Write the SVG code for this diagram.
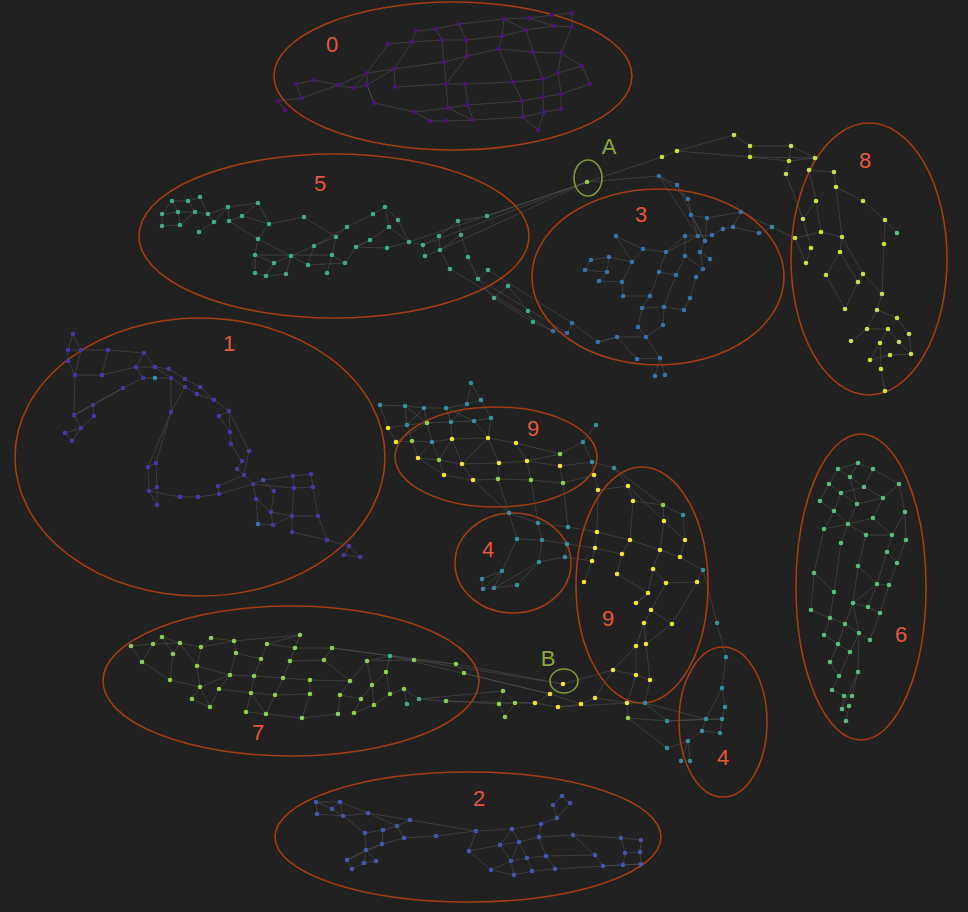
<svg xmlns="http://www.w3.org/2000/svg" width="968" height="912" viewBox="0 0 968 912">
<style>
.bg{fill:#212121}
.cl{fill:none;stroke:#a23d17;stroke-width:1.6}
.hl{fill:none;stroke:#7f9a3c;stroke-width:1.6}
.lb{font-family:"Liberation Sans",Arial,sans-serif;font-size:22px;fill:#e5573d;text-anchor:middle}
.hb{font-family:"Liberation Sans",Arial,sans-serif;font-size:22px;fill:#8aa83e;text-anchor:middle}
.e{fill:none;stroke:#6a6a6a;stroke-opacity:0.45;stroke-width:0.8}
.c0{fill:#4a1272}.c1{fill:#4a38a2}.c2{fill:#4656ac}.c3{fill:#3b70a8}.c4{fill:#3b8c9e}
.c5{fill:#44a98f}.c6{fill:#5dbc7b}.c7{fill:#8ccd52}.c8{fill:#c8e23a}.c9{fill:#f3e52a}
</style>
<rect class="bg" x="0" y="0" width="968" height="912"/>

<g id="connectors">
<path class="e" d="M278 101L302 98M285 110L278 101M302 98L296 84M296 84L314 80M314 80L338 85M302 98L338 85M338 85L367 73M338 85L353 88M353 88L367 85M367 73L394 69M367 73L367 85M367 85L374 103M353 88L367 73M367 73L388 44M388 44L412 42M412 42L416 31M416 31L436 29M412 42L442 40M436 29L442 40M412 42L394 69M394 69L395 87M395 87L446 84M394 69L444 62M374 103L415 112M415 112L430 121M430 121L446 121M446 121L473 120M415 112L448 108M448 108L468 105M444 62L446 84M446 84L448 108M442 40L444 62M444 62L467 56M446 84L465 84M446 84L467 56M465 84L468 105M468 105L473 120M448 108L473 120M459 24L466 40M436 29L459 24M466 40L467 56M442 40L466 40M459 24L504 19M466 40L502 36M467 56L499 49M465 84L513 82M468 105L522 101M473 120L523 117M504 19L529 18M502 36L526 30M499 49L533 52M499 49L502 36M502 36L504 19M499 49L513 82M513 82L522 101M522 101L523 117M523 117L538 130M513 82L543 79M522 101L543 97M523 117L544 112M529 18L552 15M526 30L554 26M533 52L561 53M526 30L533 52M533 52L543 79M543 79L543 97M543 97L544 112M543 79L558 73M543 97L561 94M544 112L561 109M552 15L572 13M554 26L572 27M561 53L558 73M558 73L561 94M561 94L561 109M561 53L572 27M572 27L572 13M561 53L582 66M582 66L590 84M590 84L561 94M558 73L582 66M538 130L544 112M529 18L554 26M504 19L526 30M367 85L394 69M374 103L367 85"/>
<path class="e" d="M172 201L188 201M188 201L200 197M162 214L172 201M162 214L178 212M178 212L195 212M195 212L208 214M162 226L162 214M162 226L180 225M180 225L178 212M172 201L178 212M188 201L195 212M200 197L208 214M180 225L195 212M208 214L214 222M199 232L214 222M214 222L228 207M208 214L228 207M228 207L229 221M229 221L242 216M228 207L258 203M242 216L258 203M242 216L269 224M258 203L269 224M269 224L258 239M258 239L255 255M255 255L255 273M255 273L266 276M266 276L286 274M255 255L274 263M274 263L266 276M274 263L291 256M291 256L286 274M258 239L291 256M229 221L258 239M269 224L304 217M304 217L336 237M336 237L332 255M332 255L327 273M332 255L345 263M345 263L356 247M314 246L308 265M314 246L336 237M291 256L314 246M308 265L291 256M308 265L345 263M255 255L332 255M336 237L347 227M347 227L373 214M373 214L385 207M385 207L389 227M389 227L370 240M370 240L356 247M356 247L387 248M387 248L409 242M409 242L423 245M423 245L439 236M439 236L458 221M458 221L461 235M461 235L440 250M440 250L439 236M423 245L425 256M425 256L440 250M440 250L450 269M461 235L468 257M468 257L478 279M478 279L488 270M478 279L494 298M494 298L508 286M508 286L528 311M494 298L533 322M458 221L487 216M398 220L409 242M385 207L398 220M389 227L409 242M356 247L370 240M314 246L347 227M528 311L533 322M533 322L553 331M450 269L553 331M478 279L567 333M488 270L572 323M487 216L587 182M409 242L587 182M440 250L587 182M423 245L587 182M587 182L659 176M587 182L662 157"/>
<path class="e" d="M659 176L677 185M677 185L688 199M659 176L688 199M688 199L691 215M691 215L707 218M707 218L741 212M691 215L698 236M691 215L705 241M707 218L705 241M698 236L685 236M698 236L712 235M712 235L723 229M723 229L733 227M733 227L759 233M741 212L733 227M759 233L772 227M772 227L795 238M685 236L666 252M685 236L685 256M700 252L705 241M700 252L710 259M700 252L703 269M703 269L696 277M696 277L690 298M690 298L684 310M684 310L664 307M685 256L676 275M676 275L659 272M666 252L643 249M643 249L616 236M643 249L632 262M632 262L609 257M609 257L591 260M591 260L585 270M585 270L607 272M607 272L609 257M607 272L599 281M599 281L622 282M622 282L632 262M622 282L623 296M623 296L650 296M650 296L642 308M642 308L664 307M642 308L638 327M638 327L646 337M646 337L617 337M617 337L598 342M598 342L572 323M572 323L567 333M567 333L553 331M663 325L664 307M663 325L646 337M660 358L646 337M660 358L637 359M637 359L617 337M655 376L660 358M665 375L660 358M659 272L666 252M659 272L650 296M676 275L664 307M685 256L703 269M616 236L632 262M666 252L698 236M659 176L698 236M677 185L705 241M741 212L772 227M598 342L617 337"/>
<path class="e" d="M662 157L677 151M677 151L734 135M677 151L750 157M734 135L750 146M750 146L791 146M750 157L789 161M750 157L815 158M791 146L789 161M789 161L786 174M789 161L815 158M815 158L809 170M809 170L834 172M809 170L816 201M834 172L836 187M836 187L863 201M816 201L803 219M816 201L821 232M836 187L842 237M863 201L885 220M885 220L884 244M885 220L897 233M821 232L795 238M821 232L842 237M795 238L806 263M811 248L806 263M803 219L811 248M842 237L840 252M840 252L826 275M840 252L858 282M863 274L858 282M884 244L882 294M826 275L845 309M858 282L845 309M863 274L882 294M882 294L877 310M877 310L867 329M877 310L897 318M897 318L909 334M867 329L851 341M867 329L888 329M888 329L880 343M888 329L899 342M899 342L911 354M909 334L911 354M880 343L870 360M880 343L881 369M890 355L911 354M870 360L890 355M881 369L885 391M786 174L803 219M750 146L750 157M791 146L815 158M842 237L863 274"/>
<path class="e" d="M73 334L68 350M73 334L81 350M68 350L81 350M81 350L108 350M108 350L144 353M68 350L68 361M68 361L75 375M81 350L75 375M75 375L102 375M102 375L108 350M102 375L136 367M144 353L136 367M144 353L155 367M136 367L155 367M155 367L169 369M136 367L143 378M143 378L155 378M155 378L171 378M155 367L171 378M169 369L185 379M171 378L185 387M185 379L200 387M185 387L197 394M197 394L214 400M200 387L214 400M214 400L229 411M219 416L229 411M143 378L123 388M123 388L93 405M93 405L94 416M93 405L74 415M74 415L81 428M81 428L65 433M65 433L72 441M72 441L81 428M74 415L75 375M123 388L74 415M94 416L81 428M171 378L171 412M171 412L185 387M171 412L156 463M171 412L148 467M229 411L230 432M219 416L230 432M230 432L231 444M231 444L242 461M229 411L249 451M249 451L244 475M242 461L237 469M237 469L244 475M244 475L253 484M253 484L263 480M263 480L293 476M293 476L311 474M253 484L294 488M294 488L313 487M311 474L313 487M293 476L294 488M253 484L256 499M256 499L271 512M271 512L274 491M274 491L263 480M271 512L292 516M292 516L318 516M318 516L313 487M292 516L294 488M256 499L258 524M258 524L273 525M273 525L271 512M273 525L292 516M292 516L292 532M292 532L327 540M327 540L318 516M327 540L349 546M349 546L344 555M344 555L360 557M349 546L360 557M148 467L156 463M148 467L149 491M156 463L157 487M149 491L157 487M157 487L157 505M149 491L180 497M180 497L198 497M198 497L219 494M219 494L218 486M218 486L244 475M219 494L253 484M157 505L149 491"/>
<path class="e" d="M471 383L467 404M471 383L481 400M380 405L405 406M405 406L424 408M424 408L446 408M446 408L467 404M467 404L481 400M380 405L388 428M405 406L407 425M424 408L427 423M446 408L451 422M481 400L491 418M388 428L407 425M407 425L427 423M427 423L451 422M451 422L474 421M474 421L491 418M388 428L396 442M407 425L412 441M427 423L432 442M451 422L452 439M491 418L488 438M396 442L412 441M412 441L432 442M432 442L452 439M452 439L488 438M488 438L516 443M474 421L488 438M412 441L418 458M418 458L439 460M439 460L462 464M462 464L499 463M499 463L527 461M527 461L560 454M527 461L560 466M560 454L583 442M583 442L596 425M560 466L592 462M583 442L592 462M592 462L614 468M418 458L444 475M444 475L473 480M473 480L498 479M498 479L531 480M531 480L563 483M563 483L594 475M432 442L439 460M452 439L462 464M488 438L499 463M516 443L527 461M516 443L560 454M439 460L444 475M462 464L473 480M499 463L498 479M527 461L531 480M560 466L563 483M592 462L594 475M405 406L427 423M424 408L407 425M446 408L474 421M451 422L467 404M396 442L427 423M432 442L418 458M452 439L439 460M488 438L462 464"/>
<path class="e" d="M594 475L598 490M598 490L628 486M628 486L633 501M633 501L663 505M663 505L683 515M663 505L664 521M683 515L685 540M664 521L685 540M664 521L660 550M685 540L680 557M660 550L680 557M660 550L653 569M680 557L703 570M703 570L697 582M697 582L666 583M653 569L666 583M653 569L648 593M648 593L636 603M666 583L651 610M651 610L644 623M644 623L636 646M651 610L672 624M672 624L646 644M597 532L595 548M597 532L630 540M630 540L622 554M622 554L595 548M595 548L592 561M592 561L584 582M622 554L617 574M617 574L648 593M630 540L660 550M598 490L597 532M633 501L630 540M636 603L648 593M703 570L717 623M717 623L726 657M697 582L672 624M628 486L664 521M614 468L628 486M614 468L663 505M636 646L636 675M646 644L650 680M613 670L636 646M644 623L646 644"/>
<path class="e" d="M509 513L538 523M509 513L517 539M538 523L568 527M538 523L542 540M517 539L542 540M542 540L567 544M567 544L565 557M565 557L539 562M539 562L542 540M539 562L494 588M494 588L517 585M517 585L539 562M517 539L502 571M502 571L482 579M502 571L483 589M482 579L483 589M483 589L494 588M502 571L494 588M568 527L597 532M567 544L595 548M509 513L473 480M509 513L498 479M538 523L531 480M568 527L563 483M565 557L592 561"/>
<path class="e" d="M131 646L153 644M131 646L142 662M153 644L142 662M153 644L162 637M162 637L180 643M153 644L180 643M180 643L173 654M162 637L173 654M173 654L170 680M142 662L170 680M170 680L200 687M180 643L201 647M201 647L211 638M201 647L197 666M197 666L200 687M200 687L192 699M192 699L210 707M200 687L210 707M210 707L219 689M219 689L230 675M200 687L230 675M197 666L230 675M180 643L197 666M211 638L234 641M234 641L236 653M236 653L230 675M236 653L261 659M230 675L254 676M254 676L251 693M251 693L246 712M251 693L266 714M254 676L261 659M261 659L267 644M267 644L295 648M295 648L290 661M290 661L283 678M283 678L275 695M275 695L266 714M254 676L283 678M251 693L275 695M300 635L295 648M300 635L267 644M290 661L324 660M324 660L332 648M295 648L332 648M283 678L310 680M310 680L310 694M310 694L302 718M275 695L310 694M302 718L338 714M338 714L340 695M340 695L350 681M350 681L324 660M350 681L367 661M354 713L361 699M361 699L340 695M361 699L372 685M372 685L367 661M372 685L374 705M374 705L354 713M372 685L386 672M386 672L390 656M390 656L367 661M386 672L390 694M390 694L404 689M404 689L407 704M390 694L374 705M367 661L414 660M390 656L414 660M414 660L456 664M456 664L464 673M404 689L419 699M419 699L446 701M219 689L251 693M246 712L266 714M266 714L302 718M310 680L350 681M332 648L390 656M414 660L563 684M456 664L563 684M464 673L550 694M446 701L499 704M419 699L503 691M446 701L535 703M390 656L550 694M332 648L456 664M234 641L300 635M201 647L234 641"/>
<path class="e" d="M503 691L499 704M499 704L505 717M505 717L515 703M499 704L515 703M515 703L535 703M503 691L515 703M535 703L558 707M535 703L550 694M550 694L563 684M558 707L581 704M581 704L595 698M595 698L613 670M613 670L636 675M636 675L650 680M636 675L627 703M650 680L645 703M627 703L645 703M595 698L627 703M627 703L628 718M645 703L667 721M628 718L667 721M563 684L613 670M550 694L581 704M645 703L706 719M667 748L688 741M688 741L681 761M688 741L690 761M688 741L702 731M702 731L706 719M706 719L722 719M722 719L725 707M725 707L722 688M722 688L726 657M702 731L720 733M720 733L722 719M706 719L722 688M667 721L706 719M667 721L722 719M628 718L667 748M558 707L627 703"/>
<path class="e" d="M858 463L838 469M858 463L873 469M858 463L850 477M838 469L850 477M838 469L829 484M850 477L864 487M873 469L864 487M873 469L899 484M829 484L841 493M841 493L864 487M829 484L820 501M820 501L834 511M841 493L834 511M841 493L857 504M850 477L857 504M864 487L883 498M857 504L883 498M883 498L873 518M899 484L905 512M905 512L892 535M905 512L906 540M873 518L892 535M873 518L848 524M857 504L848 524M834 511L848 524M834 511L824 529M824 529L848 524M848 524L866 535M866 535L892 535M848 524L841 543M866 535L858 566M892 535L887 552M887 552L897 563M906 540L897 563M887 552L877 584M897 563L889 585M824 529L814 573M814 573L834 592M841 543L834 592M858 566L877 584M877 584L889 585M877 584L853 603M853 603L868 607M868 607L880 613M880 613L889 585M868 607L877 584M834 592L830 618M811 610L814 573M811 610L830 618M830 618L845 624M845 624L853 603M853 603L859 633M859 633L845 624M859 633L870 640M870 640L880 613M830 618L824 635M824 635L838 644M838 644L845 624M838 644L850 652M850 652L859 633M838 644L830 662M830 662L839 676M839 676L850 652M839 676L832 690M832 690L844 696M844 696L852 696M852 696L858 672M844 696L842 709M842 709L849 706M849 706L846 721M858 672L842 709M858 672L859 633M858 566L853 603M883 498L899 484"/>
<path class="e" d="M316 802L340 802M316 802L317 814M316 802L332 809M332 809L340 802M340 802L343 816M332 809L343 816M317 814L343 816M343 816L368 813M340 802L368 813M368 813L410 820M368 813L397 826M410 820L397 826M397 826L383 830M383 830L365 833M343 816L365 833M397 826L404 838M383 830L382 844M365 833L366 850M382 844L366 850M382 844L404 838M366 850L347 860M366 850L364 863M364 863L352 869M347 860L352 869M364 863L376 861M376 861L366 850M347 860L382 844M404 838L436 836M436 836L476 831M410 820L476 831M476 831L512 829M476 831L469 851M469 851L491 870M491 870L514 875M514 875L511 861M511 861L500 845M500 845L512 829M512 829L519 842M519 842L500 845M519 842L511 861M511 861L527 858M527 858L532 871M532 871L514 875M527 858L546 856M546 856L555 869M532 871L555 869M546 856L539 837M539 837L519 842M539 837L541 824M541 824L557 818M557 818L553 805M553 805L562 796M562 796L570 803M570 803L557 818M541 824L512 829M539 837L573 835M573 835L595 855M595 855L603 866M603 866L641 864M555 869L603 866M546 856L595 855M621 838L641 840M621 838L625 853M625 853L640 852M640 852L641 840M625 853L623 865M623 865L641 864M641 864L640 852M469 851L500 845M527 858L519 842M491 870L511 861M573 835L621 838M603 866L623 865"/>
</g>

<g id="cluster-0">
<ellipse class="cl" cx="453" cy="76" rx="179" ry="74"/>
<text class="lb" x="332" y="52">0</text>
<g class="c0">
<circle cx="278" cy="101" r="2.3"/><circle cx="285" cy="110" r="2.3"/><circle cx="296" cy="84" r="2.3"/><circle cx="302" cy="98" r="2.3"/><circle cx="314" cy="80" r="2.3"/><circle cx="338" cy="85" r="2.3"/><circle cx="353" cy="88" r="2.3"/><circle cx="367" cy="73" r="2.3"/><circle cx="367" cy="85" r="2.3"/><circle cx="374" cy="103" r="2.3"/><circle cx="388" cy="44" r="2.3"/><circle cx="394" cy="69" r="2.3"/><circle cx="395" cy="87" r="2.3"/><circle cx="412" cy="42" r="2.3"/><circle cx="416" cy="31" r="2.3"/><circle cx="436" cy="29" r="2.3"/><circle cx="442" cy="40" r="2.3"/><circle cx="444" cy="62" r="2.3"/><circle cx="446" cy="84" r="2.3"/><circle cx="448" cy="108" r="2.3"/><circle cx="430" cy="121" r="2.3"/><circle cx="446" cy="121" r="2.3"/><circle cx="415" cy="112" r="2.3"/><circle cx="459" cy="24" r="2.3"/><circle cx="466" cy="40" r="2.3"/><circle cx="467" cy="56" r="2.3"/><circle cx="465" cy="84" r="2.3"/><circle cx="468" cy="105" r="2.3"/><circle cx="473" cy="120" r="2.3"/><circle cx="504" cy="19" r="2.3"/><circle cx="502" cy="36" r="2.3"/><circle cx="499" cy="49" r="2.3"/><circle cx="513" cy="82" r="2.3"/><circle cx="522" cy="101" r="2.3"/><circle cx="523" cy="117" r="2.3"/><circle cx="538" cy="130" r="2.3"/><circle cx="529" cy="18" r="2.3"/><circle cx="526" cy="30" r="2.3"/><circle cx="533" cy="52" r="2.3"/><circle cx="543" cy="79" r="2.3"/><circle cx="543" cy="97" r="2.3"/><circle cx="544" cy="112" r="2.3"/><circle cx="552" cy="15" r="2.3"/><circle cx="554" cy="26" r="2.3"/><circle cx="561" cy="53" r="2.3"/><circle cx="558" cy="73" r="2.3"/><circle cx="561" cy="94" r="2.3"/><circle cx="561" cy="109" r="2.3"/><circle cx="572" cy="13" r="2.3"/><circle cx="572" cy="27" r="2.3"/><circle cx="582" cy="66" r="2.3"/><circle cx="590" cy="84" r="2.3"/>
</g>
</g>

<g id="cluster-5">
<ellipse class="cl" cx="334" cy="236" rx="195" ry="82"/>
<text class="lb" x="320" y="191">5</text>
<g class="c5">
<circle cx="172" cy="201" r="2.3"/><circle cx="188" cy="201" r="2.3"/><circle cx="200" cy="197" r="2.3"/><circle cx="162" cy="214" r="2.3"/><circle cx="178" cy="212" r="2.3"/><circle cx="195" cy="212" r="2.3"/><circle cx="208" cy="214" r="2.3"/><circle cx="162" cy="226" r="2.3"/><circle cx="180" cy="225" r="2.3"/><circle cx="199" cy="232" r="2.3"/><circle cx="214" cy="222" r="2.3"/><circle cx="228" cy="207" r="2.3"/><circle cx="229" cy="221" r="2.3"/><circle cx="242" cy="216" r="2.3"/><circle cx="258" cy="203" r="2.3"/><circle cx="269" cy="224" r="2.3"/><circle cx="258" cy="239" r="2.3"/><circle cx="255" cy="255" r="2.3"/><circle cx="255" cy="273" r="2.3"/><circle cx="266" cy="276" r="2.3"/><circle cx="274" cy="263" r="2.3"/><circle cx="286" cy="274" r="2.3"/><circle cx="291" cy="256" r="2.3"/><circle cx="304" cy="217" r="2.3"/><circle cx="314" cy="246" r="2.3"/><circle cx="308" cy="265" r="2.3"/><circle cx="327" cy="273" r="2.3"/><circle cx="332" cy="255" r="2.3"/><circle cx="336" cy="237" r="2.3"/><circle cx="345" cy="263" r="2.3"/><circle cx="347" cy="227" r="2.3"/><circle cx="356" cy="247" r="2.3"/><circle cx="370" cy="240" r="2.3"/><circle cx="373" cy="214" r="2.3"/><circle cx="385" cy="207" r="2.3"/><circle cx="389" cy="227" r="2.3"/><circle cx="398" cy="220" r="2.3"/><circle cx="387" cy="248" r="2.3"/><circle cx="409" cy="242" r="2.3"/><circle cx="423" cy="245" r="2.3"/><circle cx="425" cy="256" r="2.3"/><circle cx="439" cy="236" r="2.3"/><circle cx="440" cy="250" r="2.3"/><circle cx="458" cy="221" r="2.3"/><circle cx="461" cy="235" r="2.3"/><circle cx="468" cy="257" r="2.3"/><circle cx="487" cy="216" r="2.3"/><circle cx="450" cy="269" r="2.3"/><circle cx="488" cy="270" r="2.3"/><circle cx="478" cy="279" r="2.3"/><circle cx="494" cy="298" r="2.3"/><circle cx="508" cy="286" r="2.3"/><circle cx="528" cy="311" r="2.3"/><circle cx="533" cy="322" r="2.3"/>
</g>
</g>

<g id="cluster-A">
<ellipse class="hl" cx="588" cy="178" rx="14" ry="18"/>
<text class="hb" x="609" y="154">A</text>
<circle class="c7" cx="587" cy="182" r="2.3"/>
</g>

<g id="cluster-3">
<ellipse class="cl" cx="658" cy="277" rx="126" ry="88"/>
<text class="lb" x="641" y="222">3</text>
<g class="c3">
<circle cx="659" cy="176" r="2.3"/><circle cx="677" cy="185" r="2.3"/><circle cx="688" cy="199" r="2.3"/><circle cx="691" cy="215" r="2.3"/><circle cx="707" cy="218" r="2.3"/><circle cx="741" cy="212" r="2.3"/><circle cx="759" cy="233" r="2.3"/><circle cx="733" cy="227" r="2.3"/><circle cx="723" cy="229" r="2.3"/><circle cx="712" cy="235" r="2.3"/><circle cx="698" cy="236" r="2.3"/><circle cx="685" cy="236" r="2.3"/><circle cx="705" cy="241" r="2.3"/><circle cx="700" cy="252" r="2.3"/><circle cx="710" cy="259" r="2.3"/><circle cx="685" cy="256" r="2.3"/><circle cx="703" cy="269" r="2.3"/><circle cx="696" cy="277" r="2.3"/><circle cx="690" cy="298" r="2.3"/><circle cx="684" cy="310" r="2.3"/><circle cx="666" cy="252" r="2.3"/><circle cx="676" cy="275" r="2.3"/><circle cx="643" cy="249" r="2.3"/><circle cx="659" cy="272" r="2.3"/><circle cx="664" cy="307" r="2.3"/><circle cx="663" cy="325" r="2.3"/><circle cx="646" cy="337" r="2.3"/><circle cx="660" cy="358" r="2.3"/><circle cx="637" cy="359" r="2.3"/><circle cx="655" cy="376" r="2.3"/><circle cx="665" cy="375" r="2.3"/><circle cx="638" cy="327" r="2.3"/><circle cx="642" cy="308" r="2.3"/><circle cx="650" cy="296" r="2.3"/><circle cx="623" cy="296" r="2.3"/><circle cx="622" cy="282" r="2.3"/><circle cx="632" cy="262" r="2.3"/><circle cx="616" cy="236" r="2.3"/><circle cx="609" cy="257" r="2.3"/><circle cx="591" cy="260" r="2.3"/><circle cx="585" cy="270" r="2.3"/><circle cx="607" cy="272" r="2.3"/><circle cx="599" cy="281" r="2.3"/><circle cx="617" cy="337" r="2.3"/><circle cx="598" cy="342" r="2.3"/><circle cx="572" cy="323" r="2.3"/><circle cx="567" cy="333" r="2.3"/><circle cx="553" cy="331" r="2.3"/>
</g>
<circle class="c4" cx="772" cy="227" r="2.3"/>
</g>

<g id="cluster-8">
<ellipse class="cl" cx="869" cy="259" rx="78" ry="136"/>
<text class="lb" x="865" y="168">8</text>
<g class="c8">
<circle cx="662" cy="157" r="2.3"/><circle cx="677" cy="151" r="2.3"/><circle cx="734" cy="135" r="2.3"/><circle cx="750" cy="146" r="2.3"/><circle cx="750" cy="157" r="2.3"/><circle cx="791" cy="146" r="2.3"/><circle cx="789" cy="161" r="2.3"/><circle cx="786" cy="174" r="2.3"/><circle cx="815" cy="158" r="2.3"/><circle cx="809" cy="170" r="2.3"/><circle cx="834" cy="172" r="2.3"/><circle cx="836" cy="187" r="2.3"/><circle cx="816" cy="201" r="2.3"/><circle cx="863" cy="201" r="2.3"/><circle cx="803" cy="219" r="2.3"/><circle cx="821" cy="232" r="2.3"/><circle cx="842" cy="237" r="2.3"/><circle cx="885" cy="220" r="2.3"/><circle cx="795" cy="238" r="2.3"/><circle cx="811" cy="248" r="2.3"/><circle cx="806" cy="263" r="2.3"/><circle cx="884" cy="244" r="2.3"/><circle cx="840" cy="252" r="2.3"/><circle cx="826" cy="275" r="2.3"/><circle cx="863" cy="274" r="2.3"/><circle cx="858" cy="282" r="2.3"/><circle cx="882" cy="294" r="2.3"/><circle cx="845" cy="309" r="2.3"/><circle cx="877" cy="310" r="2.3"/><circle cx="897" cy="318" r="2.3"/><circle cx="867" cy="329" r="2.3"/><circle cx="888" cy="329" r="2.3"/><circle cx="909" cy="334" r="2.3"/><circle cx="851" cy="341" r="2.3"/><circle cx="880" cy="343" r="2.3"/><circle cx="899" cy="342" r="2.3"/><circle cx="870" cy="360" r="2.3"/><circle cx="890" cy="355" r="2.3"/><circle cx="911" cy="354" r="2.3"/><circle cx="881" cy="369" r="2.3"/><circle cx="885" cy="391" r="2.3"/>
</g>
<circle class="c6" cx="897" cy="233" r="2.3"/>
</g>

<g id="cluster-1">
<ellipse class="cl" cx="200" cy="457" rx="185" ry="139"/>
<text class="lb" x="229" y="351">1</text>
<g class="c1">
<circle cx="73" cy="334" r="2.3"/><circle cx="68" cy="350" r="2.3"/><circle cx="81" cy="350" r="2.3"/><circle cx="108" cy="350" r="2.3"/><circle cx="144" cy="353" r="2.3"/><circle cx="68" cy="361" r="2.3"/><circle cx="75" cy="375" r="2.3"/><circle cx="102" cy="375" r="2.3"/><circle cx="136" cy="367" r="2.3"/><circle cx="155" cy="367" r="2.3"/><circle cx="169" cy="369" r="2.3"/><circle cx="143" cy="378" r="2.3"/><circle cx="171" cy="378" r="2.3"/><circle cx="185" cy="379" r="2.3"/><circle cx="185" cy="387" r="2.3"/><circle cx="200" cy="387" r="2.3"/><circle cx="197" cy="394" r="2.3"/><circle cx="123" cy="388" r="2.3"/><circle cx="93" cy="405" r="2.3"/><circle cx="94" cy="416" r="2.3"/><circle cx="74" cy="415" r="2.3"/><circle cx="81" cy="428" r="2.3"/><circle cx="65" cy="433" r="2.3"/><circle cx="72" cy="441" r="2.3"/><circle cx="214" cy="400" r="2.3"/><circle cx="229" cy="411" r="2.3"/><circle cx="219" cy="416" r="2.3"/><circle cx="171" cy="412" r="2.3"/><circle cx="230" cy="432" r="2.3"/><circle cx="231" cy="444" r="2.3"/><circle cx="249" cy="451" r="2.3"/><circle cx="242" cy="461" r="2.3"/><circle cx="237" cy="469" r="2.3"/><circle cx="244" cy="475" r="2.3"/><circle cx="253" cy="484" r="2.3"/><circle cx="293" cy="476" r="2.3"/><circle cx="311" cy="474" r="2.3"/><circle cx="294" cy="488" r="2.3"/><circle cx="313" cy="487" r="2.3"/><circle cx="274" cy="491" r="2.3"/><circle cx="256" cy="499" r="2.3"/><circle cx="271" cy="512" r="2.3"/><circle cx="292" cy="516" r="2.3"/><circle cx="318" cy="516" r="2.3"/><circle cx="273" cy="525" r="2.3"/><circle cx="292" cy="532" r="2.3"/><circle cx="327" cy="540" r="2.3"/><circle cx="349" cy="546" r="2.3"/><circle cx="344" cy="555" r="2.3"/><circle cx="360" cy="557" r="2.3"/><circle cx="148" cy="467" r="2.3"/><circle cx="156" cy="463" r="2.3"/><circle cx="149" cy="491" r="2.3"/><circle cx="157" cy="487" r="2.3"/><circle cx="157" cy="505" r="2.3"/><circle cx="180" cy="497" r="2.3"/><circle cx="198" cy="497" r="2.3"/><circle cx="218" cy="486" r="2.3"/><circle cx="219" cy="494" r="2.3"/>
</g>
<circle class="c4" cx="155" cy="378" r="2.3"/>
<circle class="c2" cx="263" cy="480" r="2.3"/>
<circle class="c3" cx="258" cy="524" r="2.3"/>
</g>

<g id="cluster-9a">
<ellipse class="cl" cx="496" cy="457" rx="101" ry="50"/>
<text class="lb" x="533" y="436">9</text>
</g>

<g id="cluster-4a">
<ellipse class="cl" cx="513" cy="563" rx="58" ry="50"/>
<text class="lb" x="488" y="557">4</text>
</g>

<g id="cluster-9b">
<ellipse class="cl" cx="642" cy="585" rx="66" ry="118"/>
<text class="lb" x="608" y="626">9</text>
</g>

<g id="cluster-4b">
<ellipse class="cl" cx="723" cy="722" rx="44" ry="75"/>
<text class="lb" x="723" y="765">4</text>
</g>

<g id="cluster-B">
<ellipse class="hl" cx="564" cy="681" rx="14" ry="12"/>
<text class="hb" x="548" y="666">B</text>
</g>

<g id="points-9-4">
<g class="c4">
<circle cx="471" cy="383" r="2.3"/><circle cx="380" cy="405" r="2.3"/><circle cx="405" cy="406" r="2.3"/><circle cx="424" cy="408" r="2.3"/><circle cx="446" cy="408" r="2.3"/><circle cx="467" cy="404" r="2.3"/><circle cx="481" cy="400" r="2.3"/><circle cx="407" cy="425" r="2.3"/><circle cx="451" cy="422" r="2.3"/><circle cx="474" cy="421" r="2.3"/><circle cx="491" cy="418" r="2.3"/><circle cx="432" cy="442" r="2.3"/><circle cx="583" cy="442" r="2.3"/><circle cx="596" cy="425" r="2.3"/><circle cx="592" cy="462" r="2.3"/><circle cx="614" cy="468" r="2.3"/><circle cx="683" cy="515" r="2.3"/><circle cx="703" cy="570" r="2.3"/><circle cx="717" cy="623" r="2.3"/><circle cx="726" cy="657" r="2.3"/><circle cx="722" cy="688" r="2.3"/><circle cx="725" cy="707" r="2.3"/><circle cx="706" cy="719" r="2.3"/><circle cx="722" cy="719" r="2.3"/><circle cx="702" cy="731" r="2.3"/><circle cx="720" cy="733" r="2.3"/><circle cx="688" cy="741" r="2.3"/><circle cx="667" cy="748" r="2.3"/><circle cx="681" cy="761" r="2.3"/><circle cx="690" cy="761" r="2.3"/><circle cx="645" cy="703" r="2.3"/><circle cx="667" cy="721" r="2.3"/><circle cx="509" cy="513" r="2.3"/><circle cx="538" cy="523" r="2.3"/><circle cx="568" cy="527" r="2.3"/><circle cx="517" cy="539" r="2.3"/><circle cx="542" cy="540" r="2.3"/><circle cx="567" cy="544" r="2.3"/><circle cx="565" cy="557" r="2.3"/><circle cx="539" cy="562" r="2.3"/><circle cx="502" cy="571" r="2.3"/><circle cx="482" cy="579" r="2.3"/><circle cx="483" cy="589" r="2.3"/><circle cx="494" cy="588" r="2.3"/><circle cx="517" cy="585" r="2.3"/>
</g>
<g class="c7">
<circle cx="427" cy="423" r="2.3"/><circle cx="412" cy="441" r="2.3"/><circle cx="439" cy="460" r="2.3"/><circle cx="560" cy="454" r="2.3"/><circle cx="498" cy="479" r="2.3"/><circle cx="531" cy="480" r="2.3"/><circle cx="563" cy="483" r="2.3"/><circle cx="663" cy="505" r="2.3"/><circle cx="503" cy="691" r="2.3"/><circle cx="499" cy="704" r="2.3"/><circle cx="515" cy="703" r="2.3"/><circle cx="505" cy="717" r="2.3"/><circle cx="628" cy="718" r="2.3"/>
</g>
<g class="c9">
<circle cx="388" cy="428" r="2.3"/><circle cx="396" cy="442" r="2.3"/><circle cx="452" cy="439" r="2.3"/><circle cx="488" cy="438" r="2.3"/><circle cx="516" cy="443" r="2.3"/><circle cx="418" cy="458" r="2.3"/><circle cx="462" cy="464" r="2.3"/><circle cx="499" cy="463" r="2.3"/><circle cx="527" cy="461" r="2.3"/><circle cx="560" cy="466" r="2.3"/><circle cx="444" cy="475" r="2.3"/><circle cx="473" cy="480" r="2.3"/><circle cx="594" cy="475" r="2.3"/><circle cx="598" cy="490" r="2.3"/><circle cx="628" cy="486" r="2.3"/><circle cx="633" cy="501" r="2.3"/><circle cx="664" cy="521" r="2.3"/><circle cx="685" cy="540" r="2.3"/><circle cx="630" cy="540" r="2.3"/><circle cx="660" cy="550" r="2.3"/><circle cx="680" cy="557" r="2.3"/><circle cx="653" cy="569" r="2.3"/><circle cx="697" cy="582" r="2.3"/><circle cx="666" cy="583" r="2.3"/><circle cx="597" cy="532" r="2.3"/><circle cx="595" cy="548" r="2.3"/><circle cx="622" cy="554" r="2.3"/><circle cx="592" cy="561" r="2.3"/><circle cx="617" cy="574" r="2.3"/><circle cx="584" cy="582" r="2.3"/><circle cx="648" cy="593" r="2.3"/><circle cx="636" cy="603" r="2.3"/><circle cx="651" cy="610" r="2.3"/><circle cx="644" cy="623" r="2.3"/><circle cx="672" cy="624" r="2.3"/><circle cx="636" cy="646" r="2.3"/><circle cx="646" cy="644" r="2.3"/><circle cx="613" cy="670" r="2.3"/><circle cx="636" cy="675" r="2.3"/><circle cx="650" cy="680" r="2.3"/><circle cx="563" cy="684" r="2.3"/><circle cx="550" cy="694" r="2.3"/><circle cx="535" cy="703" r="2.3"/><circle cx="558" cy="707" r="2.3"/><circle cx="581" cy="704" r="2.3"/><circle cx="595" cy="698" r="2.3"/><circle cx="627" cy="703" r="2.3"/>
</g>
</g>

<g id="cluster-6">
<ellipse class="cl" cx="861" cy="587" rx="65" ry="153"/>
<text class="lb" x="901" y="642">6</text>
<g class="c6">
<circle cx="858" cy="463" r="2.3"/><circle cx="838" cy="469" r="2.3"/><circle cx="873" cy="469" r="2.3"/><circle cx="850" cy="477" r="2.3"/><circle cx="829" cy="484" r="2.3"/><circle cx="864" cy="487" r="2.3"/><circle cx="841" cy="493" r="2.3"/><circle cx="899" cy="484" r="2.3"/><circle cx="820" cy="501" r="2.3"/><circle cx="857" cy="504" r="2.3"/><circle cx="883" cy="498" r="2.3"/><circle cx="834" cy="511" r="2.3"/><circle cx="905" cy="512" r="2.3"/><circle cx="873" cy="518" r="2.3"/><circle cx="824" cy="529" r="2.3"/><circle cx="848" cy="524" r="2.3"/><circle cx="866" cy="535" r="2.3"/><circle cx="892" cy="535" r="2.3"/><circle cx="906" cy="540" r="2.3"/><circle cx="841" cy="543" r="2.3"/><circle cx="887" cy="552" r="2.3"/><circle cx="897" cy="563" r="2.3"/><circle cx="858" cy="566" r="2.3"/><circle cx="814" cy="573" r="2.3"/><circle cx="877" cy="584" r="2.3"/><circle cx="889" cy="585" r="2.3"/><circle cx="834" cy="592" r="2.3"/><circle cx="853" cy="603" r="2.3"/><circle cx="868" cy="607" r="2.3"/><circle cx="880" cy="613" r="2.3"/><circle cx="811" cy="610" r="2.3"/><circle cx="830" cy="618" r="2.3"/><circle cx="845" cy="624" r="2.3"/><circle cx="824" cy="635" r="2.3"/><circle cx="859" cy="633" r="2.3"/><circle cx="870" cy="640" r="2.3"/><circle cx="838" cy="644" r="2.3"/><circle cx="850" cy="652" r="2.3"/><circle cx="830" cy="662" r="2.3"/><circle cx="858" cy="672" r="2.3"/><circle cx="839" cy="676" r="2.3"/><circle cx="832" cy="690" r="2.3"/><circle cx="844" cy="696" r="2.3"/><circle cx="852" cy="696" r="2.3"/><circle cx="842" cy="709" r="2.3"/><circle cx="849" cy="706" r="2.3"/><circle cx="846" cy="721" r="2.3"/>
</g>
</g>

<g id="cluster-7">
<ellipse class="cl" cx="291" cy="681" rx="188" ry="75"/>
<text class="lb" x="258" y="740">7</text>
<g class="c7">
<circle cx="131" cy="646" r="2.3"/><circle cx="142" cy="662" r="2.3"/><circle cx="153" cy="644" r="2.3"/><circle cx="162" cy="637" r="2.3"/><circle cx="180" cy="643" r="2.3"/><circle cx="173" cy="654" r="2.3"/><circle cx="170" cy="680" r="2.3"/><circle cx="201" cy="647" r="2.3"/><circle cx="211" cy="638" r="2.3"/><circle cx="197" cy="666" r="2.3"/><circle cx="200" cy="687" r="2.3"/><circle cx="192" cy="699" r="2.3"/><circle cx="219" cy="689" r="2.3"/><circle cx="210" cy="707" r="2.3"/><circle cx="234" cy="641" r="2.3"/><circle cx="236" cy="653" r="2.3"/><circle cx="230" cy="675" r="2.3"/><circle cx="251" cy="693" r="2.3"/><circle cx="246" cy="712" r="2.3"/><circle cx="254" cy="676" r="2.3"/><circle cx="261" cy="659" r="2.3"/><circle cx="266" cy="714" r="2.3"/><circle cx="267" cy="644" r="2.3"/><circle cx="275" cy="695" r="2.3"/><circle cx="283" cy="678" r="2.3"/><circle cx="290" cy="661" r="2.3"/><circle cx="295" cy="648" r="2.3"/><circle cx="300" cy="635" r="2.3"/><circle cx="302" cy="718" r="2.3"/><circle cx="310" cy="680" r="2.3"/><circle cx="310" cy="694" r="2.3"/><circle cx="324" cy="660" r="2.3"/><circle cx="332" cy="648" r="2.3"/><circle cx="338" cy="714" r="2.3"/><circle cx="340" cy="695" r="2.3"/><circle cx="350" cy="681" r="2.3"/><circle cx="354" cy="713" r="2.3"/><circle cx="361" cy="699" r="2.3"/><circle cx="367" cy="661" r="2.3"/><circle cx="372" cy="685" r="2.3"/><circle cx="374" cy="705" r="2.3"/><circle cx="386" cy="672" r="2.3"/><circle cx="390" cy="694" r="2.3"/><circle cx="404" cy="689" r="2.3"/><circle cx="414" cy="660" r="2.3"/><circle cx="446" cy="701" r="2.3"/><circle cx="456" cy="664" r="2.3"/><circle cx="464" cy="673" r="2.3"/>
</g>
<g class="c5">
<circle cx="390" cy="656" r="2.3"/><circle cx="407" cy="704" r="2.3"/><circle cx="419" cy="699" r="2.3"/>
</g>
</g>

<g id="cluster-2">
<ellipse class="cl" cx="468" cy="837" rx="193" ry="65"/>
<text class="lb" x="479" y="806">2</text>
<g class="c2">
<circle cx="316" cy="802" r="2.3"/><circle cx="340" cy="802" r="2.3"/><circle cx="332" cy="809" r="2.3"/><circle cx="317" cy="814" r="2.3"/><circle cx="343" cy="816" r="2.3"/><circle cx="368" cy="813" r="2.3"/><circle cx="410" cy="820" r="2.3"/><circle cx="397" cy="826" r="2.3"/><circle cx="383" cy="830" r="2.3"/><circle cx="365" cy="833" r="2.3"/><circle cx="404" cy="838" r="2.3"/><circle cx="382" cy="844" r="2.3"/><circle cx="366" cy="850" r="2.3"/><circle cx="347" cy="860" r="2.3"/><circle cx="364" cy="863" r="2.3"/><circle cx="376" cy="861" r="2.3"/><circle cx="352" cy="869" r="2.3"/><circle cx="436" cy="836" r="2.3"/><circle cx="476" cy="831" r="2.3"/><circle cx="469" cy="851" r="2.3"/><circle cx="491" cy="870" r="2.3"/><circle cx="512" cy="829" r="2.3"/><circle cx="519" cy="842" r="2.3"/><circle cx="500" cy="845" r="2.3"/><circle cx="511" cy="861" r="2.3"/><circle cx="527" cy="858" r="2.3"/><circle cx="514" cy="875" r="2.3"/><circle cx="532" cy="871" r="2.3"/><circle cx="546" cy="856" r="2.3"/><circle cx="555" cy="869" r="2.3"/><circle cx="539" cy="837" r="2.3"/><circle cx="541" cy="824" r="2.3"/><circle cx="557" cy="818" r="2.3"/><circle cx="553" cy="805" r="2.3"/><circle cx="562" cy="796" r="2.3"/><circle cx="570" cy="803" r="2.3"/><circle cx="573" cy="835" r="2.3"/><circle cx="595" cy="855" r="2.3"/><circle cx="603" cy="866" r="2.3"/><circle cx="621" cy="838" r="2.3"/><circle cx="641" cy="840" r="2.3"/><circle cx="625" cy="853" r="2.3"/><circle cx="640" cy="852" r="2.3"/><circle cx="623" cy="865" r="2.3"/><circle cx="641" cy="864" r="2.3"/>
</g>
</g>
</svg>
